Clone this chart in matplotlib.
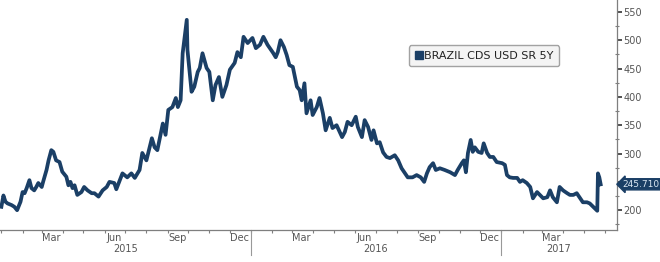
import matplotlib
matplotlib.use("Agg")
import matplotlib.pyplot as plt
import matplotlib.dates as mdates
import matplotlib.transforms as mtransforms
from matplotlib.lines import Line2D
from matplotlib.ticker import MultipleLocator, FixedLocator
import pandas as pd

# values (bp)
dates = [
    "2015-01-01", "2015-01-04", "2015-01-07", "2015-01-10", "2015-01-16", "2015-01-20",
    "2015-01-24", "2015-01-29", "2015-02-01", "2015-02-04", "2015-02-07", "2015-02-11",
    "2015-02-14", "2015-02-18", "2015-02-21", "2015-02-24", "2015-03-01", "2015-03-03",
    "2015-03-08", "2015-03-11", "2015-03-15", "2015-03-18", "2015-03-22", "2015-03-27",
    "2015-03-31", "2015-04-06", "2015-04-09", "2015-04-12", "2015-04-15", "2015-04-18",
    "2015-04-22", "2015-04-28", "2015-05-02", "2015-05-07", "2015-05-13", "2015-05-17",
    "2015-05-23", "2015-05-29", "2015-06-04", "2015-06-08", "2015-06-15", "2015-06-18",
    "2015-06-27", "2015-07-04", "2015-07-10", "2015-07-15", "2015-07-22", "2015-07-26",
    "2015-08-01", "2015-08-09", "2015-08-13", "2015-08-17", "2015-08-25", "2015-08-29",
    "2015-09-02", "2015-09-08", "2015-09-13", "2015-09-16", "2015-09-20", "2015-09-23",
    "2015-09-29", "2015-09-30", "2015-10-06", "2015-10-10", "2015-10-15", "2015-10-18",
    "2015-10-22", "2015-10-28", "2015-11-01", "2015-11-06", "2015-11-10", "2015-11-15",
    "2015-11-20", "2015-11-26", "2015-12-01", "2015-12-08", "2015-12-12", "2015-12-17",
    "2015-12-21", "2015-12-27", "2016-01-03", "2016-01-08", "2016-01-14", "2016-01-19",
    "2016-01-25", "2016-02-02", "2016-02-06", "2016-02-09", "2016-02-13", "2016-02-18",
    "2016-02-22", "2016-02-26", "2016-03-02", "2016-03-08", "2016-03-12", "2016-03-15",
    "2016-03-19", "2016-03-22", "2016-03-28", "2016-03-31", "2016-04-06", "2016-04-10",
    "2016-04-15", "2016-04-19", "2016-04-25", "2016-04-29", "2016-05-05", "2016-05-13",
    "2016-05-17", "2016-05-21", "2016-05-27", "2016-06-02", "2016-06-05", "2016-06-11",
    "2016-06-15", "2016-06-20", "2016-06-25", "2016-06-28", "2016-07-03", "2016-07-07",
    "2016-07-12", "2016-07-17", "2016-07-22", "2016-07-29", "2016-08-03", "2016-08-08",
    "2016-08-13", "2016-08-17", "2016-08-24", "2016-08-30", "2016-09-05", "2016-09-10",
    "2016-09-14", "2016-09-18", "2016-09-23", "2016-09-27", "2016-10-03", "2016-10-10",
    "2016-10-18", "2016-10-25", "2016-10-29", "2016-11-04", "2016-11-07", "2016-11-10",
    "2016-11-13", "2016-11-17", "2016-11-20", "2016-11-23", "2016-11-28", "2016-12-03",
    "2016-12-06", "2016-12-11", "2016-12-15", "2016-12-20", "2016-12-25", "2017-01-02",
    "2017-01-06", "2017-01-09", "2017-01-13", "2017-01-18", "2017-01-24", "2017-01-28",
    "2017-02-01", "2017-02-07", "2017-02-12", "2017-02-16", "2017-02-22", "2017-02-26",
    "2017-03-03", "2017-03-09", "2017-03-13", "2017-03-17", "2017-03-23", "2017-03-27",
    "2017-04-01", "2017-04-07", "2017-04-11", "2017-04-16", "2017-04-21", "2017-04-25",
    "2017-04-30", "2017-05-06", "2017-05-10", "2017-05-15", "2017-05-21", "2017-05-22",
    "2017-05-24", "2017-05-26",
]
cds = [
    206, 226, 215, 212, 209, 206,
    200, 215, 232, 230, 239, 253,
    239, 235, 241, 248, 241, 250,
    271, 288, 306, 303, 288, 285,
    268, 259, 244, 250, 239, 244,
    227, 232, 241, 235, 230, 230,
    224, 235, 241, 250, 248, 237,
    265, 258, 265, 257, 271, 301,
    288, 327, 311, 306, 353, 333,
    377, 382, 398, 382, 394, 477,
    536, 483, 409, 418, 444, 451,
    477, 451, 444, 394, 421, 435,
    400, 421, 448, 460, 479, 470,
    506, 495, 504, 486, 492, 506,
    492, 478, 470, 479, 500, 488,
    474, 456, 453, 418, 412, 394,
    424, 371, 394, 368, 382, 398,
    371, 341, 363, 345, 350, 329,
    338, 356, 350, 365, 347, 329,
    359, 347, 324, 341, 318, 320,
    302, 294, 292, 297, 288, 274,
    265, 258, 258, 262, 258, 250,
    265, 276, 283, 271, 274, 271,
    267, 262, 271, 283, 288, 267,
    301, 324, 303, 311, 303, 301,
    318, 301, 294, 294, 285, 283,
    280, 262, 258, 257, 257, 250,
    253, 248, 241, 221, 232, 227,
    221, 223, 235, 223, 214, 241,
    235, 230, 227, 227, 230, 223,
    214, 214, 212, 206, 199, 265,
    258, 245.71,
]
series_name = "BRAZIL CDS USD SR 5Y"
last_label = "245.710"
month_label_dates = ["2015-03-15", "2015-06-15", "2015-09-15", "2015-12-15",
                     "2016-03-15", "2016-06-15", "2016-09-15", "2016-12-15",
                     "2017-03-15"]
years = ["2015", "2016", "2017"]
year_label_dates = ["2015-07-01", "2016-07-01", "2017-03-25"]
year_breaks = ["2016-01-01", "2017-01-01"]
y_ticks = [200, 250, 300, 350, 400, 450, 500, 550]

navy = "#1b3f66"
gray = "#7f7f7f"
text_col = "#555555"

df = pd.DataFrame({"date": pd.to_datetime(dates), "cds": cds})

fig = plt.figure(figsize=(6.6, 2.62), dpi=100)
ax = fig.add_axes([0.0, 0.122, 0.935, 0.878])

ax.plot(df["date"], df["cds"], color=navy, linewidth=2.7, solid_joinstyle="round")

ax.set_xlim(pd.Timestamp("2014-12-30"), pd.Timestamp("2017-06-19"))
ax.set_ylim(165, 571)

for s in ["left", "top"]:
    ax.spines[s].set_visible(False)
for s in ["right", "bottom"]:
    ax.spines[s].set_color(gray)
    ax.spines[s].set_linewidth(0.9)

# y axis on the right; 250 label sits under the last-value tag
ax.yaxis.tick_right()
ax.set_yticks(y_ticks)
ax.set_yticklabels(["" if v == 250 else str(v) for v in y_ticks])
ax.yaxis.set_minor_locator(MultipleLocator(25))
ax.tick_params(axis="y", which="major", direction="out", length=3.5, width=1.2,
               color="#333333", labelsize=7, labelcolor=text_col, pad=1)
ax.tick_params(axis="y", which="minor", direction="inout", length=2.5, width=0.8, color=gray)

# x axis: ticks at month boundaries, labels mid-month
ax.xaxis.set_major_locator(mdates.MonthLocator())
ax.xaxis.set_major_formatter(plt.NullFormatter())
ax.xaxis.set_minor_locator(FixedLocator(mdates.date2num(pd.to_datetime(month_label_dates))))
ax.xaxis.set_minor_formatter(mdates.DateFormatter("%b"))
ax.tick_params(axis="x", which="major", direction="out", length=2.5, width=0.8, color=gray)
ax.tick_params(axis="x", which="minor", length=0, labelsize=7, labelcolor=text_col, pad=2)

trans = mtransforms.blended_transform_factory(ax.transData, ax.transAxes)
for yr, xp in zip(years, pd.to_datetime(year_label_dates)):
    ax.text(xp, -0.06, yr, transform=trans, ha="center", va="top", fontsize=7, color=text_col)
for sep in pd.to_datetime(year_breaks):
    ax.plot([sep, sep], [0, -0.11], transform=trans, color="#999999",
            linewidth=0.8, clip_on=False)

# legend box
handle = Line2D([], [], marker="s", linestyle="none", color=navy, markersize=5.5)
leg = ax.legend([handle], [series_name], loc="center", bbox_to_anchor=(0.784, 0.757),
                fontsize=8, frameon=True, fancybox=True, handletextpad=0.1,
                borderpad=0.5, handlelength=0.8, borderaxespad=0)
leg.get_frame().set_facecolor("#f2f2f2")
leg.get_frame().set_edgecolor("#8c8c8c")
leg.get_frame().set_linewidth(1.0)
for t in leg.get_texts():
    t.set_color("#222222")

# last value tag
ax.annotate(last_label, xy=(1.0, cds[-1]), xycoords=("axes fraction", "data"),
            xytext=(4, 0), textcoords="offset points", ha="left", va="center",
            fontsize=6.5, color="#dbe7f3",
            bbox=dict(boxstyle="larrow,pad=0.12", facecolor=navy, edgecolor=navy))

fig.savefig("out.png", dpi=100)
